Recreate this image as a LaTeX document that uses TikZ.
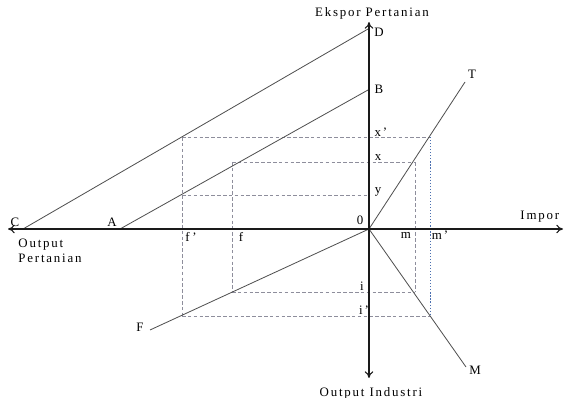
\documentclass[tikz,border=0pt]{standalone}
\usepackage{fontspec}
\setmainfont{Liberation Serif}[LetterSpace=14]
\usetikzlibrary{arrows.meta, positioning}
\definecolor{caxis}{HTML}{1A1A1A}
\definecolor{cline}{HTML}{505050}
\definecolor{cdash}{HTML}{8E8E9C}
\definecolor{cblue}{HTML}{4A6FB0}
\tikzset{
  every picture/.style={font=\fontsize{11}{12.5}\selectfont, line width=0.5pt},
  axis/.style={draw=caxis, line width=0.9pt, -{To[length=2mm, width=2.6mm]}},
  curve/.style={draw=cline, line width=0.7pt},
  guide/.style={draw=cdash, dash pattern=on 3pt off 2pt, line width=0.45pt},
  guideblue/.style={draw=cblue, dash pattern=on 1pt off 1.6pt, line width=0.7pt},
  lbl/.style={inner sep=1pt},
}

\begin{document}
\begin{tikzpicture}[x=0.03cm, y=-0.03cm]
  \useasboundingbox (0,0) rectangle (564,398);
  % axes
  \coordinate (O) at (369,229);
  \coordinate (yTop) at (369,22);
  \coordinate (yBot) at (369,378);
  \coordinate (xLeft) at (8,229);
  \coordinate (xRight) at (563,229);
  % ends of the curves
  \coordinate (C) at (23,229);
  \coordinate (D) at (368,29);
  \coordinate (A) at (120,229);
  \coordinate (B) at (368,90);
  \coordinate (T) at (465,82);
  \coordinate (M) at (466,367);
  \coordinate (F) at (150,330);
  % guide corners
  \coordinate (pxx) at (182,137);
  \coordinate (qxx) at (430,137);
  \coordinate (px) at (232,162);
  \coordinate (qx) at (415,162);
  \coordinate (py) at (182,195);
  \coordinate (ry) at (369,195);
  \coordinate (pi) at (232,292);
  \coordinate (qi) at (415,292);
  \coordinate (pii) at (182,316);
  \coordinate (qii) at (430,316);

  % dashed guides
  \draw[guide] (pxx) -- (qxx);
  \draw[guide] (px) -- (qx);
  \draw[guide] (py) -- (ry);
  \draw[guide] (pxx) -- (pii);
  \draw[guide] (px) -- (pi);
  \draw[guide] (qx) -- (qi);
  \draw[guide] (pi) -- (qi);
  \draw[guide] (pii) -- (qii);
  \draw[guideblue] (qxx) -- (qii);

  % curves
  \draw[curve] (C) -- (D);
  \draw[curve] (A) -- (B);
  \draw[curve] (O) -- (T);
  \draw[curve] (O) -- (M);
  \draw[curve] (F) -- (O);

  % axes
  \draw[axis] (O) -- (yTop);
  \draw[axis] (O) -- (yBot);
  \draw[axis] (O) -- (xLeft);
  \draw[axis] (O) -- (xRight);

  % labels
  \node[lbl] (lEks) at (372,13) {Ekspor Pertanian};
  \node[lbl] (lInd) at (371,393) {Output Industri};
  \node[lbl, anchor=west] (lImp) at (519,217) {Impor};
  \node[lbl, anchor=west, align=left] (lOut) at (17,251) {Output\\Pertanian};
  \node[lbl] (lD) at (379,32) {D};
  \node[lbl] (lB) at (379,89) {B};
  \node[lbl] (lT) at (472,74) {T};
  \node[lbl] (lM) at (475,370) {M};
  \node[lbl] (lF) at (140,327) {F};
  \node[lbl] (lC) at (15,222) {C};
  \node[lbl] (lA) at (112,222) {A};
  \node[lbl] (l0) at (360,220) {0};
  \node[lbl] (lxx) at (381,132) {x'};
  \node[lbl] (lx) at (378,158) {x};
  \node[lbl] (ly) at (378,192) {y};
  \node[lbl] (lff) at (191,237) {f'};
  \node[lbl] (lf) at (241,237) {f};
  \node[lbl] (lm) at (406,235) {m};
  \node[lbl] (lmm) at (440,235) {m'};
  \node[lbl] (li) at (362,286) {i};
  \node[lbl] (lii) at (364,310) {i'};
\end{tikzpicture}
\end{document}
